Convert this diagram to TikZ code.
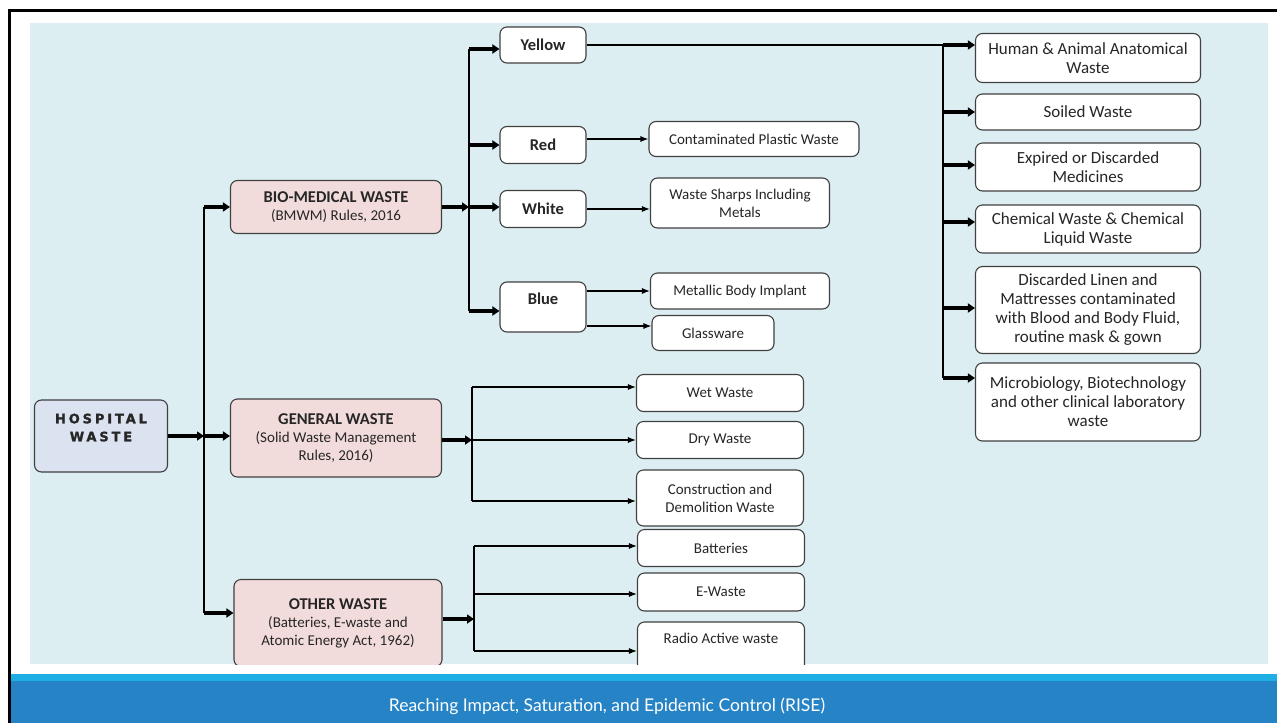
\documentclass[tikz,border=0pt]{standalone}
\usepackage{fontspec}
\setmainfont{Carlito}
\newfontfamily\rootfont[LetterSpace=22, BoldFeatures={FakeBold=1.5}]{DejaVu Sans}
\newfontfamily\footfont{Lato}
\usepackage{tikz}
\usetikzlibrary{arrows.meta, positioning}

\definecolor{panel}{HTML}{DCEEF2}
\definecolor{lawpink}{HTML}{F2DCDB}
\definecolor{rootblue}{HTML}{DCE3F0}
\definecolor{barlight}{HTML}{1EAEE3}
\definecolor{bardark}{HTML}{2684C6}

\begin{document}
\begin{tikzpicture}[x=1pt, y=-1pt,
    box/.style={rectangle, rounded corners=7pt, draw=black!75, line width=1.1pt, fill=white, align=center, inner sep=2pt, text=black!85, font=\fontsize{15}{18}\selectfont},
    lawbox/.style={box, fill=lawpink, minimum width=211pt},
    colbox/.style={box, minimum width=86pt, minimum height=37pt, font=\fontsize{16.5}{18}\selectfont\bfseries},
    catbox/.style={box, minimum width=225pt, font=\fontsize{17}{19}\selectfont},
    link/.style={line width=1.1pt, -{Latex[length=8pt,width=6pt]}},
    feed/.style={line width=3.5pt, -{Triangle[length=7pt,width=9pt]}},
    trunk/.style={line width=1.1pt}]

    \useasboundingbox (0,0) rectangle (1277,723);

    % page frame, panel and footer band
    \fill[panel] (30,23) rectangle (1268,664);
    \fill[barlight] (11,674) rectangle (1277,681);
    \fill[bardark] (11,681) rectangle (1277,723);
    \draw[line width=3pt] (9.5,723) -- (9.5,10.5) -- (1277,10.5);
    \node[font=\footfont\fontsize{17.5}{20}\selectfont, text=white] (footer) at (607,706) {Reaching Impact, Saturation, and Epidemic Control (RISE)};

    \begin{scope}
    \clip (30,23) rectangle (1268,664);

    % root and the three rule groups
    \node[box, fill=rootblue, minimum width=133pt, minimum height=72pt, text depth=17pt, font=\rootfont\bfseries\fontsize{13}{18}\selectfont] (hosp) at (101,436) {HOSPITAL\\WASTE};
    \node[lawbox, minimum height=53pt] (bmw) at (336,207) {\fontsize{16.5}{18}\selectfont\bfseries BIO-MEDICAL WASTE\\(BMWM) Rules, 2016};
    \node[lawbox, minimum height=78pt] (gen) at (336,438) {\fontsize{16.5}{18}\selectfont\bfseries GENERAL WASTE\\(Solid Waste Management\\Rules, 2016)};
    \node[lawbox, minimum width=208pt, minimum height=87pt] (other) at (338,623) {\fontsize{16.5}{18}\selectfont\bfseries OTHER WASTE\\(Batteries, E-waste and\\Atomic Energy Act, 1962)};

    % colour categories
    \node[colbox, minimum height=36pt] (yellow) at (543,45) {Yellow};
    \node[colbox] (red) at (543,145) {Red};
    \node[colbox] (white) at (543,209) {White};
    \node[colbox, minimum height=50pt, text depth=17pt] (blue) at (543,307) {Blue};

    \node[box, minimum width=210pt, minimum height=35pt] (plastic) at (754,139) {Contaminated Plastic Waste};
    \node[box, minimum width=179pt, minimum height=50pt] (sharps) at (740,203) {Waste Sharps Including\\Metals};
    \node[box, minimum width=179pt, minimum height=36pt] (implant) at (740,291) {Metallic Body Implant};
    \node[box, minimum width=122pt, minimum height=35pt] (glass) at (713,333) {Glassware};

    % yellow category contents
    \node[catbox, minimum height=49pt] (anat) at (1088,58) {Human \& Animal Anatomical\\Waste};
    \node[catbox, minimum height=36pt] (soiled) at (1088,112) {Soiled Waste};
    \node[catbox, minimum height=48pt] (meds) at (1088,167) {Expired or Discarded\\Medicines};
    \node[catbox, minimum height=48pt] (chem) at (1088,229) {Chemical Waste \& Chemical\\Liquid Waste};
    \node[catbox, minimum height=87pt] (linen) at (1088,310) {Discarded Linen and\\Mattresses contaminated\\with Blood and Body Fluid,\\routine mask \& gown};
    \node[catbox, minimum height=78pt] (micro) at (1088,402) {Microbiology, Biotechnology\\and other clinical laboratory\\waste};

    % general and other waste contents
    \node[box, minimum width=167pt, minimum height=37pt] (wet) at (720,393) {Wet Waste};
    \node[box, minimum width=167pt, minimum height=37pt] (dry) at (720,440) {Dry Waste};
    \node[box, minimum width=167pt, minimum height=56pt] (demol) at (720,498) {Construction and\\Demolition Waste};
    \node[box, minimum width=167pt, minimum height=37pt] (batt) at (721,548) {Batteries};
    \node[box, minimum width=167pt, minimum height=38pt] (ewaste) at (721,592) {E-Waste};
    \node[box, minimum width=167pt, minimum height=58pt, text depth=25pt] (radio) at (721,651) {Radio Active waste};

    % branch points
    \coordinate (hub) at (204,436);
    \coordinate (colhub) at (469,207);
    \coordinate (yhub) at (943,45);
    \coordinate (genhub) at (472,440);
    \coordinate (othhub) at (474,619);

    % root to rule groups
    \draw[feed] (hosp.east |- hub) -- (hub);
    \draw[feed] (hub) -- (hub -| gen.west);
    \draw[trunk] (bmw.west -| hub) -- ([yshift=10pt]other.west -| hub);
    \draw[feed] (bmw.west -| hub) -- (bmw.west);
    \draw[feed] ([yshift=10pt]other.west -| hub) -- ([yshift=10pt]other.west);

    % bio-medical branch
    \draw[feed] (bmw.east) -- (colhub);
    \draw[feed] (colhub) -- (colhub -| white.west);
    \draw[trunk] ([yshift=-4pt]yellow.west -| colhub) -- ([yshift=-4pt]blue.west -| colhub);
    \draw[feed] ([yshift=-4pt]yellow.west -| colhub) -- ([yshift=-4pt]yellow.west);
    \draw[feed] (red.west -| colhub) -- (red.west);
    \draw[feed] ([yshift=-4pt]blue.west -| colhub) -- ([yshift=-4pt]blue.west);

    \draw[link] (red.east |- plastic) -- (plastic.west);
    \draw[link] (white.east) -- (white.east -| sharps.west);
    \draw[link] (blue.east |- implant) -- (implant.west);
    \draw[link] ([yshift=-19pt]blue.east) -- ([yshift=-19pt]blue.east -| glass.west);

    % yellow bag contents
    \draw[trunk] (yellow.east) -- (yhub) -- ([yshift=24pt]micro.west -| yhub);
    \draw[feed] ([yshift=13pt]anat.west -| yhub) -- ([yshift=13pt]anat.west);
    \draw[feed] (soiled.west -| yhub) -- (soiled.west);
    \draw[feed] ([yshift=2pt]meds.west -| yhub) -- ([yshift=2pt]meds.west);
    \draw[feed] ([yshift=7pt]chem.west -| yhub) -- ([yshift=7pt]chem.west);
    \draw[feed] ([yshift=2pt]linen.west -| yhub) -- ([yshift=2pt]linen.west);
    \draw[feed] ([yshift=24pt]micro.west -| yhub) -- ([yshift=24pt]micro.west);

    % general waste branch
    \draw[feed] (gen.east |- genhub) -- (genhub);
    \draw[trunk] ([yshift=6pt]wet.west -| genhub) -- ([yshift=-3pt]demol.west -| genhub);
    \draw[link] ([yshift=6pt]wet.west -| genhub) -- ([yshift=6pt]wet.west);
    \draw[link] (genhub) -- (genhub -| dry.west);
    \draw[link] ([yshift=-3pt]demol.west -| genhub) -- ([yshift=-3pt]demol.west);

    % other waste branch
    \draw[feed] (other.east |- othhub) -- (othhub);
    \draw[trunk] ([yshift=2pt]batt.west -| othhub) -- (radio.west -| othhub);
    \draw[link] ([yshift=2pt]batt.west -| othhub) -- ([yshift=2pt]batt.west);
    \draw[link] ([yshift=-2pt]ewaste.west -| othhub) -- ([yshift=-2pt]ewaste.west);
    \draw[link] (radio.west -| othhub) -- (radio.west);
    \end{scope}

\end{tikzpicture}
\end{document}
